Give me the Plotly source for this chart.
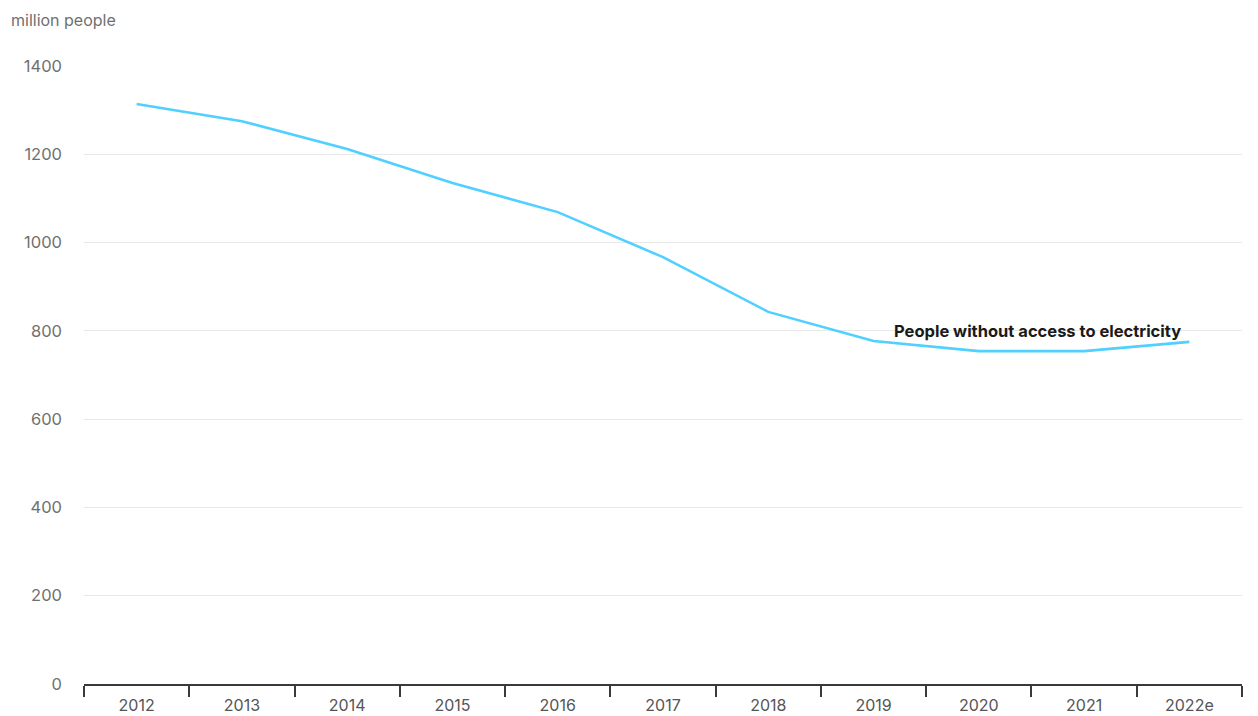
import plotly.graph_objects as go

# People without access to electricity, million people
years = ["2012", "2013", "2014", "2015", "2016", "2017", "2018", "2019", "2020", "2021", "2022e"]
people_without_access = [1314, 1275, 1212, 1135, 1069, 967, 843, 777, 754, 754, 775]
y_ticks = [0, 200, 400, 600, 800, 1000, 1200, 1400]
series_label = "People without access to electricity"
unit_label = "million people"

FONT = "Inter, Open Sans, sans-serif"
TICK_GREY = "#707070"

fig = go.Figure()
fig.add_trace(go.Scatter(
    x=years,
    y=people_without_access,
    mode="lines",
    line=dict(color="#4FD0FF", width=2.6),
    hoverinfo="x+y",
    showlegend=False,
))

fig.update_layout(
    width=1258,
    height=716,
    margin=dict(l=84, r=16, t=66, b=32),
    paper_bgcolor="white",
    plot_bgcolor="white",
    font=dict(family=FONT, size=16, color=TICK_GREY),
    xaxis=dict(
        type="category",
        range=[-0.5, len(years) - 0.5],
        automargin=False,
        tickson="boundaries",
        ticks="outside",
        ticklen=11,
        tickwidth=2,
        tickcolor="#3a3a3a",
        showline=True,
        linecolor="#3a3a3a",
        linewidth=2,
        showgrid=False,
        ticklabelstandoff=6,
        tickfont=dict(size=16, color="#555555"),
        fixedrange=True,
    ),
    yaxis=dict(
        range=[0, 1400],
        tickvals=y_ticks,
        automargin=False,
        showgrid=True,
        gridcolor="#e8e8e8",
        gridwidth=1,
        zeroline=False,
        showline=False,
        ticks="",
        ticklabelstandoff=21,
        tickfont=dict(size=16.5, color=TICK_GREY),
        fixedrange=True,
    ),
    annotations=[
        dict(
            text=unit_label,
            xref="paper", yref="paper",
            x=0, y=1, xshift=-75, yshift=46,
            xanchor="left", yanchor="middle",
            showarrow=False,
            font=dict(family=FONT, size=16, color=TICK_GREY),
        ),
        dict(
            text="<b>" + series_label + "</b>",
            xref="x", yref="y",
            x=9.94, y=800,
            xanchor="right", yanchor="middle",
            showarrow=False,
            font=dict(family=FONT, size=16.5, color="#1a1a1a"),
        ),
    ],
)

fig.write_html("out.html")
